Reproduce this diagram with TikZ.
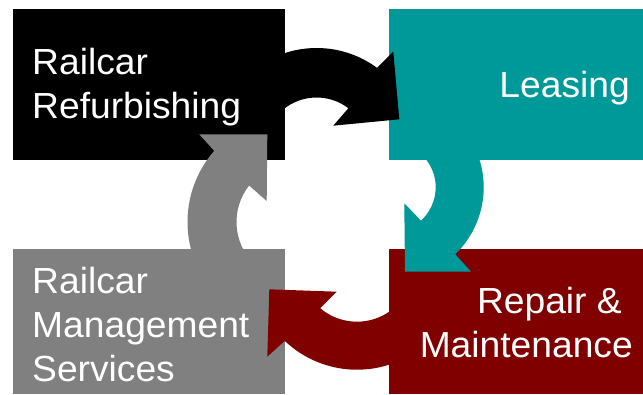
\documentclass[tikz,border=0pt]{standalone}
\usepackage{fontspec}
\setmainfont[FakeStretch=1.025]{Liberation Sans}
\definecolor{tealc}{RGB}{0,153,153}
\definecolor{redc}{RGB}{128,0,0}
\definecolor{grayc}{RGB}{128,128,128}
\begin{document}
\begin{tikzpicture}[x=1pt,y=1pt,
  box/.style={inner sep=0pt, outer sep=0pt, minimum width=#1, anchor=south west},
  lbl/.style={text=white, inner sep=0pt, font=\fontsize{36.3}{44}\selectfont}]
\useasboundingbox (0,0) rectangle (643,394);
\fill[white] (0,0) rectangle (643,394);
% boxes
\node[box=272pt, fill=black, minimum height=151pt] (refurb) at (13,234) {};
\node[box=254pt, fill=tealc, minimum height=151pt] (leasing) at (389,234) {};
\node[box=254pt, fill=redc, minimum height=145pt] (repair) at (389,0) {};
\node[box=272pt, fill=grayc, minimum height=145pt] (mgmt) at (13,0) {};
% arrow centres and head points
\coordinate (Cb) at (316.6,244);
\coordinate (bo) at (393.3,342.3);
\coordinate (bt) at (399.3,274.7);
\coordinate (bi) at (333.3,268.3);
\coordinate (Ct) at (390.7,206.7);
\coordinate (to) at (471,122.3);
\coordinate (tt) at (405,122.3);
\coordinate (ti) at (404.3,190.7);
\coordinate (Cr) at (357,129.3);
\coordinate (ro) at (267.3,37.3);
\coordinate (rt) at (269.3,104.7);
\coordinate (ri) at (336.7,102.3);
\coordinate (Cg) at (295.5,172);
\coordinate (go) at (199.3,259.7);
\coordinate (gt) at (267.3,259.7);
\coordinate (gi) at (266.7,193);
% black arrow: refurbishing -> leasing
\fill[black] ([shift={(130:102)}]Cb) arc[start angle=130, end angle=53.66, radius=102pt]
  -- (bo) -- (bt) -- (bi) -- ([shift={(52.76:52.5)}]Cb)
  arc[start angle=52.76, end angle=130, radius=52.5pt] -- cycle;
% teal arrow: leasing -> repair
\fill[tealc] ([shift={(50:93)}]Ct) arc[start angle=50, end angle=-46.04, radius=93pt]
  -- (to) -- (tt) -- (ti) -- ([shift={(-47.79:45)}]Ct)
  arc[start angle=-47.79, end angle=50, radius=45pt] -- cycle;
% red arrow: repair -> management
\fill[redc] ([shift={(-40:105)}]Cr) arc[start angle=-40, end angle=-133.5, radius=105pt]
  -- (ro) -- (rt) -- (ri) -- ([shift={(-130.3:57)}]Cr)
  arc[start angle=-130.3, end angle=-40, radius=57pt] -- cycle;
% gray arrow: management -> refurbishing
\fill[grayc] ([shift={(225:108)}]Cg) arc[start angle=225, end angle=138.8, radius=108pt]
  -- (go) -- (gt) -- (gi) -- ([shift={(141.8:59)}]Cg)
  arc[start angle=141.8, end angle=225, radius=59pt] -- cycle;
% labels
\node[lbl, anchor=base west] (t1) at (32,319.7) {Railcar};
\node[lbl, anchor=base west] (t2) at (32,275.7) {Refurbishing};
\node[lbl, anchor=base east] (t3) at (630,296.7) {Leasing};
\node[lbl, anchor=base east] (t4) at (622,80.15) {Repair \&};
\node[lbl, anchor=base east] (t5) at (633,36.15) {Maintenance};
\node[lbl, anchor=base west] (t6) at (32,100.7) {Railcar};
\node[lbl, anchor=base west] (t7) at (32,56.7) {Management};
\node[lbl, anchor=base west] (t8) at (32,12.7) {Services};
\end{tikzpicture}
\end{document}
